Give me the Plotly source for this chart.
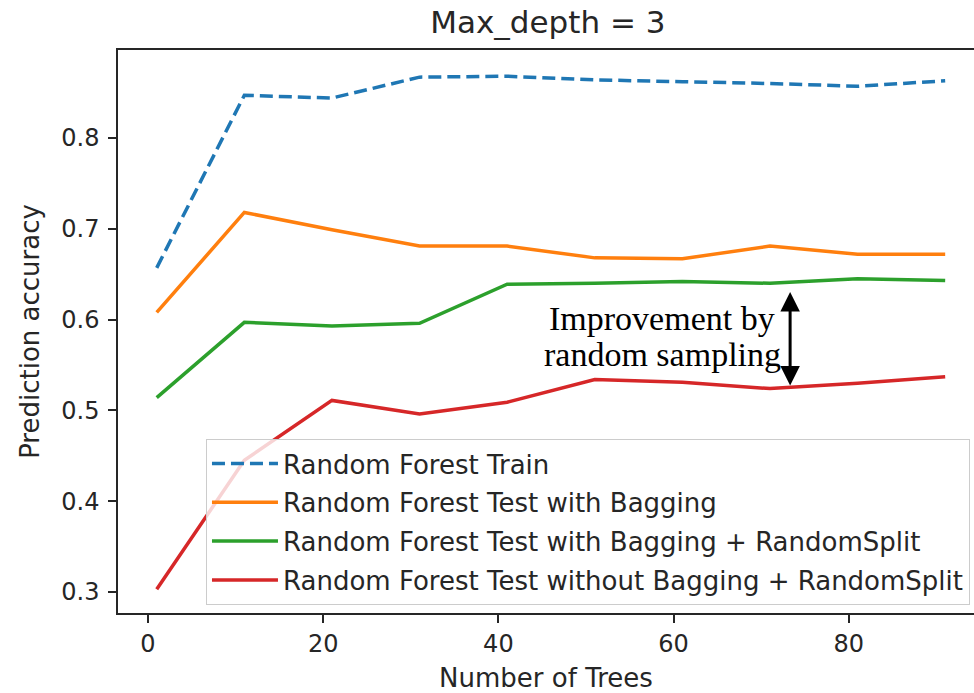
import plotly.graph_objects as go

n_trees = [1, 11, 21, 31, 41, 51, 61, 71, 81, 91]
rf_train = [0.657, 0.847, 0.844, 0.867, 0.868, 0.864, 0.862, 0.860, 0.857, 0.863]
rf_test_bagging = [0.608, 0.718, 0.699, 0.681, 0.681, 0.668, 0.667, 0.681, 0.672, 0.672]
rf_test_bag_split = [0.514, 0.597, 0.593, 0.596, 0.639, 0.640, 0.642, 0.640, 0.645, 0.643]
rf_test_nobag_split = [0.303, 0.445, 0.511, 0.496, 0.509, 0.534, 0.531, 0.524, 0.530, 0.537]

names = ["Random Forest Train",
         "Random Forest Test with Bagging",
         "Random Forest Test with Bagging + RandomSplit",
         "Random Forest Test without Bagging + RandomSplit"]
colors = ["#1f77b4", "#ff7f0e", "#2ca02c", "#d62728"]
series = [rf_train, rf_test_bagging, rf_test_bag_split, rf_test_nobag_split]
dashes = ["13px,6px", "solid", "solid", "solid"]

x_ticks = [0, 20, 40, 60, 80]
y_ticks = [0.3, 0.4, 0.5, 0.6, 0.7, 0.8]

FONT = "DejaVu Sans"
TXT = "#262626"

fig = go.Figure()
for i, (nm, c, s, d) in enumerate(zip(names, colors, series, dashes)):
    fig.add_trace(go.Scatter(x=n_trees, y=s, mode="lines", name=nm, legendgroup=f"g{i}",
                             line=dict(color=c, width=3.5, dash=d)))

fig.update_layout(
    width=974, height=693,
    margin=dict(l=118, r=0, t=50, b=80),
    paper_bgcolor="white", plot_bgcolor="white",
    font=dict(family=FONT, size=24, color=TXT),
    title=dict(text="Max_depth = 3", x=0.5625, xanchor="center", y=0.968, yanchor="middle",
               font=dict(family=FONT, size=31, color=TXT)),
    showlegend=True,
    legend=dict(x=0.9953, y=0.014, xanchor="right", yanchor="bottom",
                bgcolor="rgba(255,255,255,0.8)", bordercolor="#cccccc", borderwidth=1,
                font=dict(family=FONT, size=26, color=TXT), tracegroupgap=2, itemwidth=66),
)
fig.update_xaxes(range=[-3.42, 94.29], tickvals=x_ticks, showgrid=False, zeroline=False,
                 showline=True, linecolor="#262626", linewidth=1.5, mirror=True,
                 ticks="outside", ticklen=8, tickwidth=1.5, tickcolor="#262626",
                 tickfont=dict(family=FONT, size=24, color=TXT),
                 title=dict(text="Number of Trees", font=dict(family=FONT, size=26, color=TXT), standoff=16))
fig.update_yaxes(range=[0.2769, 0.8969], tickvals=y_ticks, tickformat=".1f", showgrid=False, zeroline=False,
                 showline=True, linecolor="#262626", linewidth=1.5, mirror=False,
                 ticks="outside", ticklen=8, tickwidth=1.5, tickcolor="#262626",
                 ticklabelstandoff=4,
                 tickfont=dict(family=FONT, size=24, color=TXT),
                 title=dict(text="Prediction accuracy", font=dict(family=FONT, size=26, color=TXT), standoff=14))

fig.add_annotation(x=58.7, y=0.601, xref="x", yref="y", text="Improvement by", showarrow=False,
                   font=dict(family="Liberation Serif", size=34, color="black"))
fig.add_annotation(x=58.7, y=0.562, xref="x", yref="y", text="random sampling", showarrow=False,
                   font=dict(family="Liberation Serif", size=34, color="black"))
fig.add_annotation(x=73.3, y=0.5275, ax=73.3, ay=0.632, xref="x", yref="y", axref="x", ayref="y",
                   text="", showarrow=True, arrowside="end+start", arrowhead=2, arrowsize=1.3,
                   arrowwidth=3, arrowcolor="black")

fig.write_html("out.html")
